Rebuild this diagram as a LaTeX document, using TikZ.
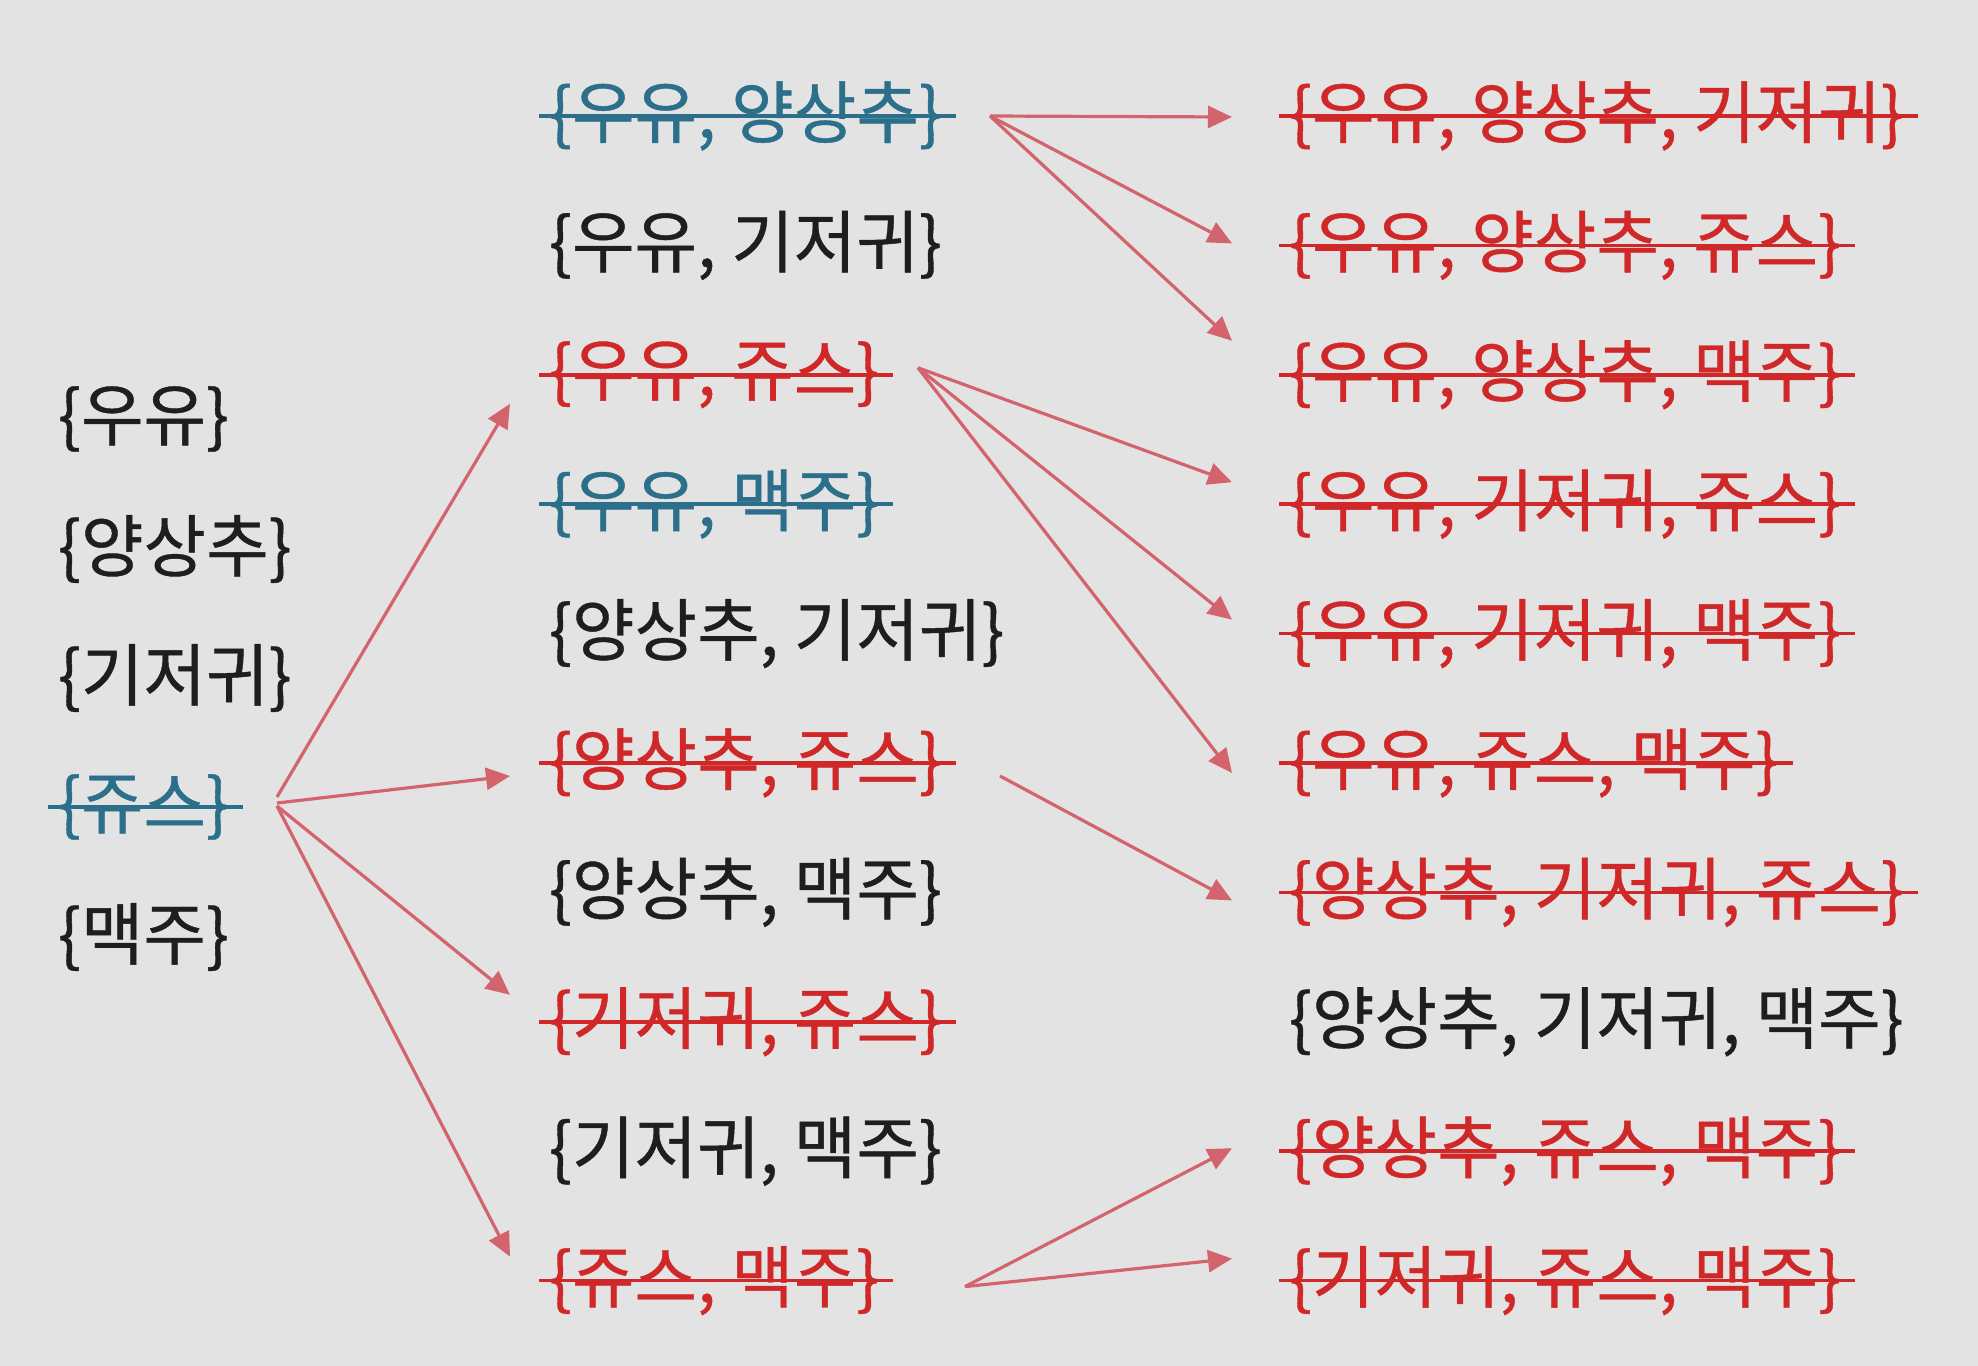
\documentclass[tikz,border=0pt]{standalone}
\usepackage{fontspec}
\setmainfont{Noto Sans CJK KR}[FakeBold=0.6]
\usetikzlibrary{calc,arrows.meta}
\definecolor{bg}{HTML}{E3E3E3}
\definecolor{txt}{HTML}{1E1E1E}
\definecolor{bluex}{HTML}{2B6F8A}
\definecolor{redx}{HTML}{D02828}
\definecolor{arr}{HTML}{D3646E}
\begin{document}
\begin{tikzpicture}[x=0.5pt,y=-0.5pt,
  setitem/.style={anchor=west,inner sep=0pt,outer sep=0pt,font=\fontsize{34pt}{38pt}\selectfont,text=txt},
  blueset/.style={setitem,text=bluex},
  redset/.style={setitem,text=redx},
  conn/.style={draw=arr,line width=1.6pt,-{Triangle[length=12pt,width=11pt]}},
  strike/.style={line width=1.8pt}
]
\fill[bg] (0,0) rectangle (1978,1366);
\useasboundingbox (0,0) rectangle (1978,1366);
% left column
\node[setitem]  (l1) at (58,419) {\{우유\}};
\node[setitem]  (l2) at (58,549) {\{양상추\}};
\node[setitem]  (l3) at (58,678) {\{기저귀\}};
\node[blueset]  (l4) at (58,807) {\{쥬스\}};
\node[setitem]  (l5) at (58,937) {\{맥주\}};
% middle column
\node[blueset] (m1)  at (549,116.0)  {\{우유, 양상추\}};
\node[setitem] (m2)  at (549,245.4)  {\{우유, 기저귀\}};
\node[redset]  (m3)  at (549,374.8)  {\{우유, 쥬스\}};
\node[blueset] (m4)  at (549,504.2)  {\{우유, 맥주\}};
\node[setitem] (m5)  at (549,633.6)  {\{양상추, 기저귀\}};
\node[redset]  (m6)  at (549,763.0)  {\{양상추, 쥬스\}};
\node[setitem] (m7)  at (549,892.4)  {\{양상추, 맥주\}};
\node[redset]  (m8)  at (549,1021.8) {\{기저귀, 쥬스\}};
\node[setitem] (m9)  at (549,1151.2) {\{기저귀, 맥주\}};
\node[redset]  (m10) at (549,1280.6) {\{쥬스, 맥주\}};
% right column
\node[redset]  (r1)  at (1289,116.0)  {\{우유, 양상추, 기저귀\}};
\node[redset]  (r2)  at (1289,245.4)  {\{우유, 양상추, 쥬스\}};
\node[redset]  (r3)  at (1289,374.8)  {\{우유, 양상추, 맥주\}};
\node[redset]  (r4)  at (1289,504.2)  {\{우유, 기저귀, 쥬스\}};
\node[redset]  (r5)  at (1289,633.6)  {\{우유, 기저귀, 맥주\}};
\node[redset]  (r6)  at (1289,763.0)  {\{우유, 쥬스, 맥주\}};
\node[redset]  (r7)  at (1289,892.4)  {\{양상추, 기저귀, 쥬스\}};
\node[setitem] (r8)  at (1289,1021.8) {\{양상추, 기저귀, 맥주\}};
\node[redset]  (r9)  at (1289,1151.2) {\{양상추, 쥬스, 맥주\}};
\node[redset]  (r10) at (1289,1280.6) {\{기저귀, 쥬스, 맥주\}};
% strike-through lines
\foreach \n/\c in {l4/bluex,m1/bluex,m4/bluex,m3/redx,m6/redx,m8/redx,m10/redx,
  r1/redx,r2/redx,r3/redx,r4/redx,r5/redx,r6/redx,r7/redx,r9/redx,r10/redx}
  \draw[strike,\c] ($(\n.west)+(-10,0)$) -- ($(\n.east)+(14,0)$);
% connectors
\draw[conn] ($(l4.west)+(219,-10)$) -- ($(m3.west)+(-39,29)$);
\draw[conn] ($(l4.west)+(219,-4)$)  -- ($(m6.west)+(-39,13)$);
\draw[conn] ($(l4.west)+(219,-1)$)  -- ($(m8.west)+(-39,-27)$);
\draw[conn] ($(l4.west)+(219,-1)$)  -- ($(m10.west)+(-39,-24)$);
\draw[conn] ($(m1.west)+(441,0)$) -- ($(r1.west)+(-57,1)$);
\draw[conn] ($(m1.west)+(441,0)$) -- ($(r2.west)+(-57,-2)$);
\draw[conn] ($(m1.west)+(441,0)$) -- ($(r3.west)+(-57,-34)$);
\draw[conn] ($(m3.west)+(369,-7)$) -- ($(r4.west)+(-57,-22)$);
\draw[conn] ($(m3.west)+(369,-7)$) -- ($(r5.west)+(-57,-14)$);
\draw[conn] ($(m3.west)+(369,-7)$) -- ($(r6.west)+(-57,10)$);
\draw[conn] ($(m6.west)+(451,13)$) -- ($(r7.west)+(-57,8)$);
\draw[conn] ($(m10.west)+(416,6)$) -- ($(r9.west)+(-57,-3)$);
\draw[conn] ($(m10.west)+(416,6)$) -- ($(r10.west)+(-57,-22)$);
\end{tikzpicture}
\end{document}
